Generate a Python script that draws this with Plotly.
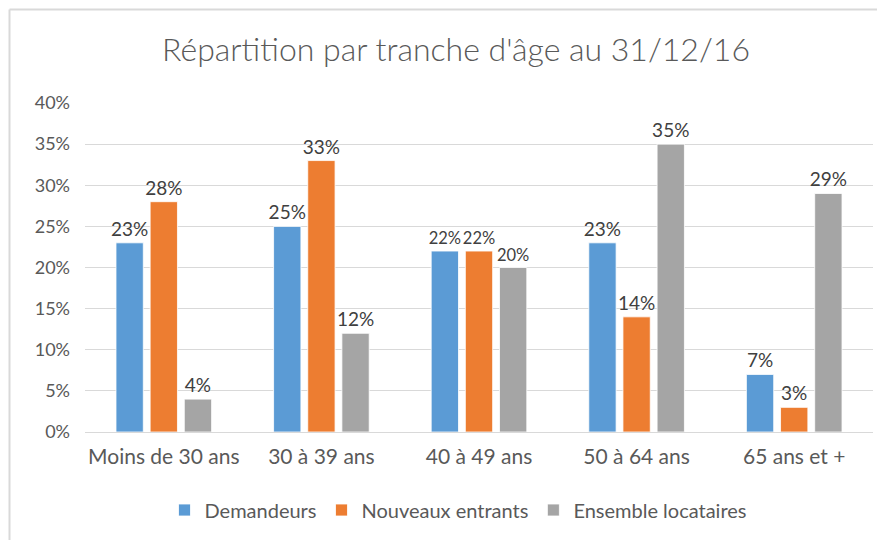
import plotly.graph_objects as go

categories = ["Moins de 30 ans", "30 à 39 ans", "40 à 49 ans", "50 à 64 ans", "65 ans et +"]
demandeurs = [0.23, 0.25, 0.22, 0.23, 0.07]
nouveaux = [0.28, 0.33, 0.22, 0.14, 0.03]
ensemble = [0.04, 0.12, 0.20, 0.35, 0.29]
series_names = ["Demandeurs", "Nouveaux entrants", "Ensemble locataires"]
colors = ["#5B9BD5", "#ED7D31", "#A5A5A5"]
title = "Répartition par tranche d'âge au 31/12/16"
tick_vals = [0, 0.05, 0.10, 0.15, 0.20, 0.25, 0.30, 0.35, 0.40]

FONT = "Lato, Open Sans, sans-serif"
W, H = 885, 540
O = 8  # page body margin offset
L = 85 - O
T = 103 - O
R = W - (873 - O)
B = H - (432 - O)

fig = go.Figure()
for name, vals, col in zip(series_names, [demandeurs, nouveaux, ensemble], colors):
    fig.add_trace(go.Bar(
        x=categories, y=vals, name=name,
        marker=dict(color=col, line=dict(color="white", width=0.8)),
        text=[f"{round(v*100)}%" for v in vals],
        textposition="outside", cliponaxis=False, constraintext="none",
        textfont=dict(size=[19, 19, 16.5, 19, 19], color="#404040", family=FONT),
    ))

pw = W - L - R
ph = H - T - B
def px(x):
    return (x - O - L) / pw
def py(y):
    return (H - B - (y - O)) / ph

shapes = [
    dict(type="line", xref="paper", yref="paper", x0=px(9.5), x1=px(900), y0=py(9.5), y1=py(9.5),
         line=dict(color="#D9D9D9", width=2)),
    dict(type="line", xref="paper", yref="paper", x0=px(9.5), x1=px(9.5), y0=py(9.5), y1=py(560),
         line=dict(color="#D9D9D9", width=2)),
]

fig.update_layout(
    width=W, height=H,
    margin=dict(l=L, r=R, t=T, b=B, autoexpand=False),
    paper_bgcolor="white", plot_bgcolor="white",
    title=dict(text=title, x=(456 - O) / W, xanchor="center", xref="container",
               y=1 - (50 - O) / H, yanchor="middle", yref="container",
               font=dict(size=32, color="#595959", family=FONT, weight=300)),
    barmode="group", bargap=0.35, bargroupgap=0.2,
    font=dict(family=FONT, color="#595959"),
    xaxis=dict(showline=True, linecolor="#D9D9D9", linewidth=1, ticks="",
               tickfont=dict(size=21, color="#595959"), showgrid=False,
               ticklabelstandoff=6),
    yaxis=dict(range=[0, 0.40], tickvals=tick_vals, tickformat=".0%",
               showgrid=True, gridcolor="#D9D9D9", gridwidth=1, zeroline=False,
               tickfont=dict(size=18, color="#595959"), ticklabelstandoff=14),
    legend=dict(orientation="h", x=(458 - O) / W, xanchor="center", xref="container",
                y=1 - (510 - O) / H, yanchor="middle", yref="container",
                font=dict(size=20, color="#595959"), traceorder="normal",
                itemwidth=30, entrywidthmode="pixels"),
    shapes=shapes,
    showlegend=True,
)

fig.write_html("out.html")
